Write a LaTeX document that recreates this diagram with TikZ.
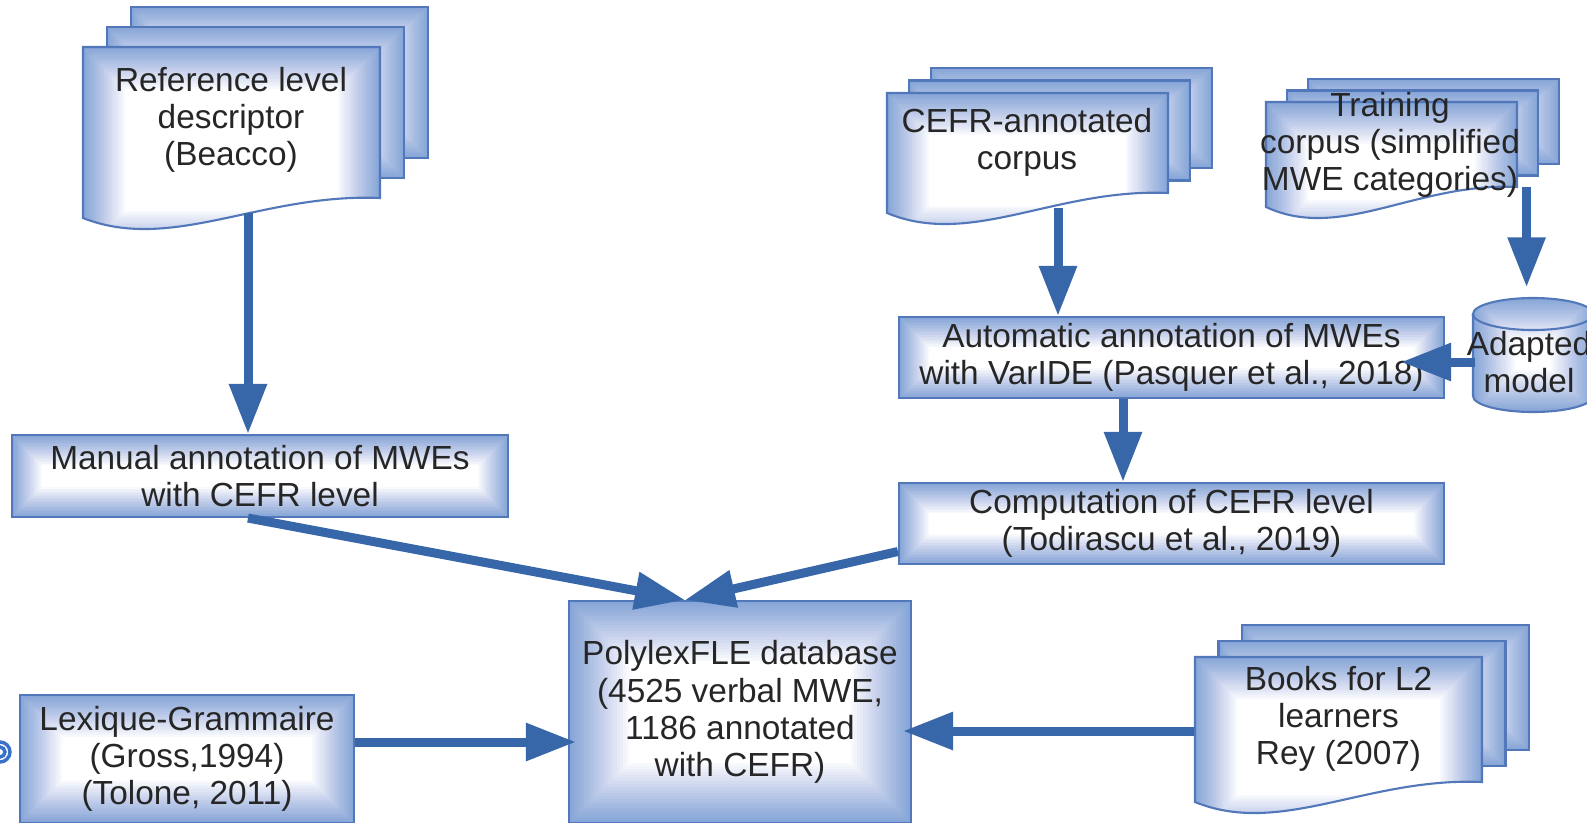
\documentclass[tikz,border=0pt]{standalone}
\usepackage{fontspec}
\setmainfont{Liberation Sans}
\usetikzlibrary{arrows.meta,calc}

\definecolor{boxblue}{HTML}{86A5D8}
\definecolor{boxline}{HTML}{5378BA}
\definecolor{arrowblue}{HTML}{3767A8}
\definecolor{ringblue}{HTML}{3A72C8}
\definecolor{txtgray}{HTML}{262626}

\newcommand{\boxfont}{\fontsize{9.5pt}{10.6pt}\selectfont}
% three stacked pages: left, top, right, bottom, page dx, page dy
\newcommand{\docstack}[6]{%
  \draw[page] (#1+2*#5,#2+2*#6) rectangle (#3+2*#5,#4+0.2+2*#6);
  \draw[page] (#1+#5,#2+#6) rectangle (#3+#5,#4+0.2+#6);
  \draw[page] (#1,#4) -- (#1,#2) -- (#3,#2) -- (#3,#4+0.2)
    .. controls ({#1+0.6*(#3-#1)},#4+0.25) and ({#1+0.3*(#3-#1)},#4-0.35) .. (#1,#4) -- cycle;}

\tikzset{
  rectgrad/.style={path picture={
    \fill[boxblue] (path picture bounding box.south west) rectangle (path picture bounding box.north east);
    \foreach \i [evaluate=\i as \op using {1/(21-\i)}] in {1,...,20}
      \fill[white, opacity=\op] ($(path picture bounding box.south west)+(#1*\i/20,#1*\i/20)$)
        rectangle ($(path picture bounding box.north east)-(#1*\i/20,#1*\i/20)$);
  }}
}

\begin{document}
\begin{tikzpicture}[
  every node/.style={font=\boxfont, text=txtgray, align=center, inner sep=0pt},
  box/.style={draw=boxline, line width=0.6pt, rectgrad=#1},
  box/.default=0.3,
  page/.style={draw=boxline, line width=0.6pt, rectgrad=0.42},
  flow/.style={draw=arrowblue, line width=0.09cm, -{Triangle[length=0.5cm,width=0.36cm]}},
  ring/.style={draw=ringblue, line width=0.035cm}
]
  \useasboundingbox (0,0) rectangle (15.87,-8.22);

  % document stacks
  \docstack{0.83}{-0.47}{3.80}{-2.18}{0.24}{0.20}
  \docstack{8.87}{-0.93}{11.68}{-2.13}{0.22}{0.125}
  \docstack{12.66}{-1.02}{15.17}{-2.07}{0.21}{0.115}
  \docstack{11.95}{-6.57}{14.82}{-8.02}{0.235}{0.16}

  % model
  \draw[page] (14.73,-3.14) -- (14.73,-3.96) arc (180:360:0.60 and 0.16)
    -- (15.93,-3.14) arc (0:180:0.60 and 0.16) -- cycle;
  \draw[boxline, line width=0.6pt] (14.73,-3.14) arc (180:360:0.60 and 0.16);

  \node (ref) [minimum width=2.97cm, minimum height=1.84cm] at (2.31,-1.20) {Reference level\\descriptor\\(Beacco)};
  \node (cefr) [minimum width=2.81cm, minimum height=1.30cm] at (10.27,-1.42) {CEFR-annotated\\corpus};
  \node (train) [minimum width=2.51cm] at (13.90,-1.45) {Training\\corpus (simplified\\MWE categories)};
  \node (books) [minimum width=2.87cm] at (13.385,-7.19) {Books for L2\\learners\\Rey (2007)};
  \node (model) [minimum width=1.20cm, minimum height=1.28cm] at (15.29,-3.62) {Adapted\\model};

  \node[box, minimum width=4.96cm, minimum height=0.82cm] (manual) at (2.60,-4.76) {Manual annotation of MWEs\\with CEFR level};
  \node[box, minimum width=5.45cm, minimum height=0.81cm] (auto) at (11.715,-3.575) {Automatic annotation of MWEs\\with VarIDE (Pasquer et al., 2018)};
  \node[box, minimum width=5.45cm, minimum height=0.81cm] (comp) at (11.715,-5.235) {Computation of CEFR level\\(Todirascu et al., 2019)};
  \node[box=0.6, minimum width=3.42cm, minimum height=2.22cm] (poly) at (7.40,-7.12) {PolylexFLE database\\(4525 verbal MWE,\\1186 annotated\\with CEFR)};
  \node[box=0.42, minimum width=3.34cm, minimum height=1.28cm] (lex) at (1.87,-7.59) {Lexique-Grammaire\\(Gross,1994)\\(Tolone, 2011)};

  \draw[flow] ($(ref.south)+(0.17,0)$) -- ($(ref.south |- manual.north)+(0.17,0)$);
  \draw[flow] ($(cefr.south)+(0.31,0)$) -- ($(cefr.south |- auto.north)+(0.31,0)$);
  \draw[flow, shorten >=1mm] ($(train.east)+(0.06,-0.42)$) -- ($(train.east |- model.north)+(0.06,0)$);
  \draw[flow, shorten >=-0.44cm] ($(model.west)+(0.09,0)$) -- (model.west -| auto.east);
  \draw[flow] ($(auto.south)+(-0.485,0)$) -- ($(comp.north)+(-0.485,0)$);
  \draw[flow] ($(manual.south)+(-0.12,0)$) -- ($(poly.north)+(-0.55,0)$);
  \draw[flow] ($(comp.west)+(0,-0.28)$) -- ($(poly.north)+(-0.55,0)$);
  \draw[flow, shorten >=-0.08cm] ($(lex.east)+(0,0.17)$) -- ($(lex.east -| poly.west)+(0,0.17)$);
  \draw[flow, shorten >=-0.09cm] ($(books.west)+(0,-0.12)$) -- ($(books.west -| poly.east)+(0,-0.12)$);

  \draw[ring] (0,-7.52) circle (0.10);
  \draw[ring] (0,-7.52) circle (0.05);
\end{tikzpicture}
\end{document}
